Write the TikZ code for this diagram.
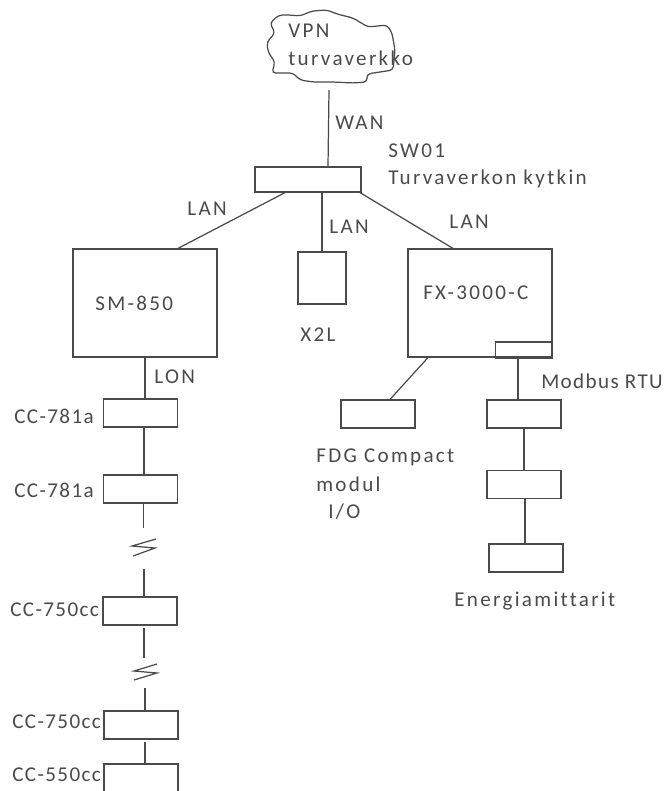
\documentclass[tikz,border=0pt]{standalone}
\usepackage{xcolor}
\usepackage{fontspec}
\setmainfont{Carlito}[LetterSpace=11,Ligatures=NoCommon]
\newfontfamily\tagfont{Carlito}[LetterSpace=6.5,Ligatures=NoCommon]
\usetikzlibrary{calc}
\definecolor{ink}{HTML}{4A4A4A}

\begin{document}
\begin{tikzpicture}[
  x=0.02cm, y=-0.02cm,
  unit/.style={rectangle, draw=ink, line width=0.7pt, inner sep=0pt, minimum width=1.48cm, minimum height=0.56cm},
  lnk/.style={ink, line width=0.7pt},
  lbl/.style={font=\fontsize{12}{12}\selectfont, text=ink, anchor=west, inner sep=0pt},
  tag/.style={lbl, font=\tagfont\fontsize{12}{12}\selectfont}
]
\useasboundingbox (0,0) rectangle (666,791);

% cloud
\draw[lnk, rounded corners=2pt] (270,23) -- (279,15) -- (290,15) -- (300,16) -- (312,11) -- (327,10) -- (337,14) -- (353,18) -- (368,27) -- (387,25) -- (392,33) -- (395,50) -- (393,70) -- (367,74) -- (367,82) -- (353,83) -- (333,82) -- (313,82) -- (300,80) -- (293,73) -- (272,73) -- (275,62) -- (268,52) -- (267,42) -- (275,33) -- cycle;
\node[lbl] (vpn) at (288,31) {VPN};
\node[lbl] (turva) at (288,58) {turvaverkko};
\coordinate (cloudend) at (329,90);

\node[unit, minimum width=2.12cm, minimum height=0.5cm] (sw) at (308,179.5) {};
\node[unit, minimum width=2.88cm, minimum height=2.16cm] (sm) at (145,303) {};
\node[unit, minimum width=0.96cm, minimum height=1.04cm] (xtl) at (322,278) {};
\node[unit, minimum width=2.88cm, minimum height=2.16cm] (fx) at (480,303) {};
\node[unit, minimum width=1.14cm, minimum height=0.32cm] (port) at (524,350) {};
\node[unit] (fdg) at (378,414) {};
\node[unit] (ea) at (524,414) {};
\node[unit] (eb) at (524,484.5) {};
\node[unit] (ec) at (526,558) {};
\node[unit] (cca) at (140.5,413) {};
\node[unit] (ccb) at (140.5,489) {};
\node[unit] (ccc) at (140,611) {};
\node[unit] (ccd) at (141,725) {};
\node[unit, minimum height=0.8cm] (cce) at (141,784) {};

\node[lbl] at (335,123) (wan) {WAN};
\node[lbl] at (388,151) (swa) {SW01};
\node[lbl] at (388,179) (swb) {Turvaverkon kytkin};
\node[lbl] at (187,209) (lana) {LAN};
\node[lbl] at (329,227) (lanb) {LAN};
\node[lbl] at (449,222) (lanc) {LAN};
\node[lbl] at (95,303) (smt) {SM-850};
\node[lbl] at (423,293) (fxt) {FX-3000-C};
\node[lbl] at (300,335) (xtlt) {X2L};
\node[lbl] at (154,377) (lon) {LON};
\node[tag] at (541,381) (mod) {Modbus RTU};
\node[tag] at (14,416) (ccat) {CC-781a};
\node[tag] at (14,490) (ccbt) {CC-781a};
\node[tag] at (10,610) (ccct) {CC-750cc};
\node[tag] at (12,722) (ccdt) {CC-750cc};
\node[tag] at (12,775) (ccet) {CC-550cc};
\node[lbl] at (316,457) (fdga) {FDG Compact};
\node[lbl] at (316,484) (fdgb) {modul};
\node[lbl] at (328,512) (fdgc) {I/O};
\node[lbl] at (454,601) (ener) {Energiamittarit};

\coordinate (brka) at (143.5,528);
\coordinate (brkb) at (144,569);
\coordinate (brkc) at (144,658);
\coordinate (brkd) at (145,688);

\draw[lnk] (cloudend) -- ($(sw.north)+(20,0)$);
\draw[lnk] ($(sw.south)+(-23,0)$) -- ($(sm.north)+(33,0)$);
\draw[lnk] ($(sw.south)+(14,0)$) -- (xtl.north);
\draw[lnk] ($(sw.south)+(52,0)$) -- ($(fx.north)+(-27,0)$);
\draw[lnk] (sm.south) -- (cca.north -| sm.south);
\draw[lnk] ($(fx.south)+(-52,0)$) -- ($(fdg.north)+(12,0)$);
\draw[lnk] ($(port.south)+(-6,0)$) -- ($(ea.north)+(-6,0)$);
\draw[lnk] (ea.south) -- (eb.north);
\draw[lnk] ($(eb.south)+(1,0)$) -- ($(ec.north)+(-1,0)$);
\draw[lnk] ($(cca.south)+(3.5,0)$) -- ($(ccb.north)+(3.5,0)$);
\draw[lnk] ($(ccb.south)+(3,0)$) -- (brka);
\draw[lnk] (brkb) -- (brkb |- ccc.north);
\draw[lnk] ($(ccc.south)+(4,2)$) -- (brkc);
\draw[lnk] (brkd) -- (brkd |- ccd.north);
\draw[lnk] ($(ccd.south)+(4,2)$) -- ($(cce.north)+(4,0)$);

% breaks
\draw[lnk] (156,539) -- (132,546) -- (155,548) -- (133,556);
\draw[lnk] (157,664) -- (134,671) -- (157,673) -- (134,680);
\end{tikzpicture}
\end{document}
